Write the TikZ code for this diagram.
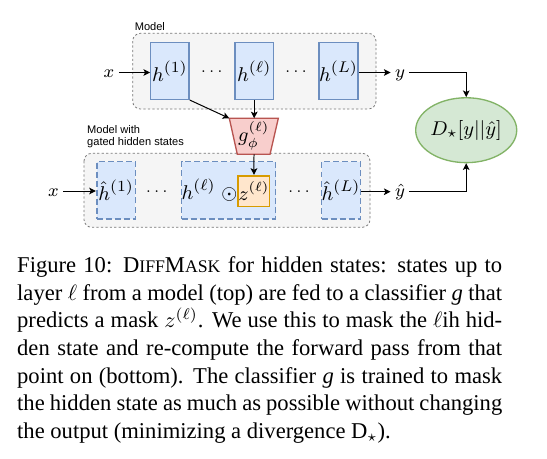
\documentclass[tikz,border=0pt]{standalone}
\usepackage{fontspec}
\setmainfont{Liberation Serif}
\newfontfamily\labelsans{Liberation Sans}
\usetikzlibrary{arrows.meta,shapes.geometric}

\definecolor{blueback}{HTML}{DAE8FC}
\definecolor{blueline}{HTML}{6C8EBF}
\definecolor{redback}{HTML}{F8CECC}
\definecolor{redline}{HTML}{B85450}
\definecolor{orback}{HTML}{FFE6CC}
\definecolor{orline}{HTML}{D79B00}
\definecolor{greyback}{HTML}{F5F5F5}
\definecolor{greyline}{HTML}{777777}
\definecolor{greenback}{HTML}{D5E8D4}
\definecolor{greenline}{HTML}{82B366}

\tikzset{every picture/.style={line width=0.45pt},
  container/.style={draw=greyline, fill=greyback, dash pattern=on 1pt off 1pt, line width=0.35pt, rounded corners=3.5pt},
  hbox/.style={draw=blueline, fill=blueback, line width=0.6pt, minimum width=17.3pt, minimum height=25.6pt, inner sep=0pt, font=\fontsize{9.3}{10}\selectfont},
  hatbox/.style={hbox, line width=0.75pt, dash pattern=on 2.7pt off 1.4pt, minimum width=17.5pt, minimum height=26pt},
  zbox/.style={draw=orline, fill=orback, line width=0.75pt, minimum size=13.9pt, inner sep=0pt, font=\fontsize{9}{10}\selectfont},
  gate/.style={draw=redline, fill=redback, line width=0.6pt},
  divnode/.style={ellipse, draw=greenline, fill=greenback, line width=0.6pt, minimum width=36.6pt, minimum height=29.3pt, inner sep=0pt, font=\fontsize{9.5}{11}\selectfont},
  lab/.style={inner xsep=1.8pt, inner ysep=0pt, text height=1ex, text depth=0pt, font=\fontsize{8.5}{10}\selectfont},
  dots/.style={anchor=base, inner sep=0pt, font=\fontsize{7}{8}\selectfont},
  boxtext/.style={anchor=base west, inner sep=0pt, font=\labelsans\fontsize{5}{6}\selectfont},
  capline/.style={anchor=base west, inner sep=0pt, font=\fontsize{10.2}{12}\selectfont},
  arr/.style={-{Stealth[length=3pt,width=3pt,inset=0.7pt]}, line width=0.45pt}
}
\newcommand{\capsc}[1]{{\fontsize{8}{10}\selectfont #1}}

\begin{document}
\begin{tikzpicture}[x=0.4515pt,y=0.4515pt,yscale=-1,xscale=1]
	\fill[white] (0,0) rectangle (547,458);
	\useasboundingbox (0,0) rectangle (547,458);

	%Shape: Rounded Rect
	\draw[container] (132.7,33.3) rectangle (376,109);
	%Shape: Rounded Rect
	\draw[container] (84,153.3) rectangle (370,227.3);

	% Text Node
	\node[boxtext] (mtop) at (134.3,30) {Model};
	% Text Node
	\node[boxtext] (mwith) at (86.7,133.3) {Model with};
	% Text Node
	\node[boxtext] (mgated) at (86.7,145.7) {gated hidden states};

	%Shape: Rectangle
	\node[hbox] (h1) at (169.9,71) {$h^{(1)}$};
	\node[hbox] (hl) at (254.2,71) {$h^{(\ell)}$};
	\node[hbox] (hL) at (338.5,71) {$h^{(L)}$};
	\node[dots] (dt1) at (211.7,75.5) {$\cdots$};
	\node[dots] (dt2) at (296,75.5) {$\cdots$};

	%Shape: Rectangle
	\node[hatbox] (hh1) at (116.1,190.4) {$\hat{h}^{(1)}$};
	\node[hatbox, minimum width=42.4pt] (hhl) at (228.6,190.4) {};
	\node[hatbox] (hhL) at (341,190.4) {$\hat{h}^{(L)}$};
	\node[zbox] (z) at (253.9,191.1) {$z^{(\ell)}$};
	\node[font=\fontsize{9.3}{10}\selectfont, anchor=base, inner sep=0pt] (hlodot) at (209.5,199.3) {$h^{(\ell)}\;\odot$};
	\node[dots] (db1) at (156.7,195) {$\cdots$};
	\node[dots] (db2) at (299,195) {$\cdots$};

	%Shape: Trapezoid
	\draw[gate] (229.3,118.3) coordinate (gtl) -- (278.3,118.3) -- (270,154.3) -- (237.3,154.3) -- cycle;
	\coordinate (gbot) at (254,154.3);
	\node[font=\fontsize{9}{10}\selectfont, inner sep=0pt] (g) at (253.8,135.5) {$g^{(\ell)}_{\phi}$};

	%Shape: Ellipse
	\node[divnode] (div) at (466.2,130.2) {$D_{\star}[y||\hat{y}]$};

	% Text Node
	\node[lab] (xt) at (109,72.5) {$x$};
	\node[lab] (yt) at (400,72.5) {$y$};
	\node[lab] (xb) at (53.3,191) {$x$};
	\node[lab] (yb) at (400,191.7) {$\hat{y}$};

	%Straight Lines
	\draw[arr] (xt) -- (xt -| h1.west);
	\draw[arr] (hL.east |- yt) -- (yt);
	\draw[arr] (yt) -| (div);
	\draw[arr] (xb) -- (xb -| hh1.west);
	\draw[arr] (hhL.east |- yb) -- (yb);
	\draw[arr] (yb) -| (div);
	\draw[arr] (h1.south east) -- (gtl);
	\draw[arr] (hl) -- (hl |- gtl);
	\draw[arr] (gbot) -- (z);

	% Caption
	\node[capline] (c1) at (16.7,272.7) {\makebox[219pt][s]{Figure 10: D\capsc{IFF}M\capsc{ASK} for hidden states: states up to}};
	\node[capline] (c2) at (16.7,300.3) {\makebox[219pt][s]{layer $\ell$ from a model (top) are fed to a classifier \textit{g} that}};
	\node[capline] (c3) at (16.7,327.9) {\makebox[219pt][s]{predicts a mask $z^{(\ell)}$. We use this to mask the $\ell$ih hid-}};
	\node[capline] (c4) at (16.7,355.5) {\makebox[219pt][s]{den state and re-compute the forward pass from that}};
	\node[capline] (c5) at (16.7,383.1) {\makebox[219pt][s]{point on (bottom). The classifier \textit{g} is trained to mask}};
	\node[capline] (c6) at (16.7,410.7) {\makebox[219pt][s]{the hidden state as much as possible without changing}};
	\node[capline] (c7) at (16.7,438.3) {the output (minimizing a divergence D$_{\star}$).};
\end{tikzpicture}
\end{document}
